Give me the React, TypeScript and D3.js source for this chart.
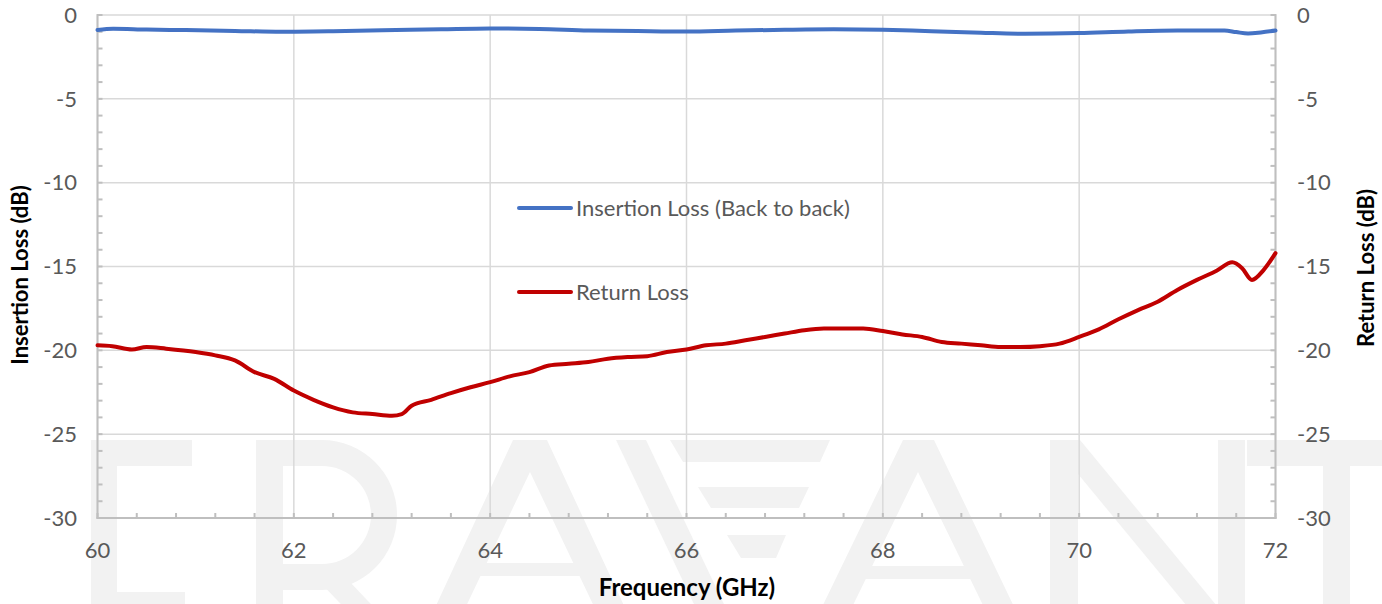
import React from "react";
import * as d3 from "d3";

// ---- data ----
const rlFreq = [60.0, 60.15, 60.35, 60.5, 60.7, 61.0, 61.2, 61.4, 61.6, 61.8, 62.0, 62.2, 62.4, 62.6, 62.8, 63.0, 63.1, 63.2, 63.4, 63.6, 63.8, 64.0, 64.2, 64.4, 64.6, 64.8, 65.0, 65.2, 65.4, 65.6, 65.8, 66.0, 66.2, 66.4, 66.6, 66.8, 67.0, 67.2, 67.4, 67.6, 67.8, 68.0, 68.2, 68.4, 68.6, 68.8, 69.0, 69.2, 69.4, 69.6, 69.8, 70.0, 70.2, 70.4, 70.6, 70.8, 71.0, 71.2, 71.4, 71.56, 71.66, 71.76, 71.88, 72.0];
const returnLoss = [-19.7, -19.75, -19.95, -19.8, -19.9, -20.1, -20.3, -20.6, -21.3, -21.7, -22.4, -22.95, -23.4, -23.7, -23.8, -23.9, -23.8, -23.3, -22.95, -22.55, -22.2, -21.9, -21.55, -21.3, -20.9, -20.8, -20.7, -20.5, -20.4, -20.35, -20.1, -19.95, -19.7, -19.6, -19.4, -19.2, -19.0, -18.8, -18.7, -18.7, -18.7, -18.85, -19.05, -19.2, -19.5, -19.6, -19.7, -19.8, -19.8, -19.75, -19.6, -19.2, -18.75, -18.15, -17.6, -17.1, -16.4, -15.8, -15.25, -14.75, -15.1, -15.8, -15.2, -14.2];

const ilFreq = [60.0, 60.16, 60.5, 60.9, 61.4, 61.87, 62.4, 63.04, 63.5, 64.0, 64.5, 65.0, 65.5, 66.0, 66.5, 67.0, 67.5, 68.0, 68.3, 68.66, 69.0, 69.45, 70.0, 70.5, 71.0, 71.48, 71.6, 71.72, 71.85, 72.0];
const insertionLoss = [-0.9, -0.82, -0.87, -0.9, -0.95, -1.0, -0.97, -0.9, -0.85, -0.8, -0.83, -0.92, -0.96, -0.99, -0.93, -0.88, -0.85, -0.88, -0.93, -1.0, -1.06, -1.12, -1.08, -0.98, -0.92, -0.93, -1.02, -1.1, -1.04, -0.93];

const xTicks = [60, 62, 64, 66, 68, 70, 72];
const yTicks = [0, -5, -10, -15, -20, -25, -30];
const seriesNames = ["Insertion Loss (Back to back)", "Return Loss"];
const seriesColors = ["#4472C4", "#C00000"];

const W = 1382;
const H = 604;
const L = 97.5;
const R = 1275.5;
const T = 15;
const B = 518;

const font = "Lato, 'Open Sans', sans-serif";

export default function App() {
  const x = d3.scaleLinear().domain([60, 72]).range([L, R]);
  const y = d3.scaleLinear().domain([-30, 0]).range([B, T]);

  const line = d3
    .line<[number, number]>()
    .x((d) => x(d[0]))
    .y((d) => y(d[1]))
    .curve(d3.curveMonotoneX);

  const rlPts = rlFreq.map((f, i) => [f, returnLoss[i]] as [number, number]);
  const ilPts = ilFreq.map((f, i) => [f, insertionLoss[i]] as [number, number]);

  const xMinor = d3.range(60, 72.001, 0.4);
  const yMinor = d3.range(-30, 0.001, 1);

  const wm = "#f2f2f2";

  return (
    <div style={{ position: "absolute", left: 0, top: 0 }}>
      <svg width={W} height={H} style={{ display: "block", background: "#fff" }}>
        {/* watermark */}
        <g fill={wm}>
          {/* E */}
          <rect x={91} y={440} width={26} height={200} />
          <rect x={91} y={440} width={101} height={26} />
          <rect x={91} y={592} width={94} height={26} />
          {/* R */}
          <rect x={256} y={440} width={27} height={200} />
          <path d={"M256,440 H322 A75,75 0 0 1 322,590 H256 V564 H322 A49,49 0 0 0 322,466 H256 Z"} />
          <path d={"M318,580 L348,580 L405,640 L375,640 Z"} />
          {/* A */}
          <path d={"M513,440 L547,440 L640,640 L610,640 L530,472 L450,640 L420,640 Z"} />
          <rect x={478} y={563} width={106} height={13} />
          {/* V logo */}
          <path d={"M616,440 L646,440 L760,680 L730,680 Z"} />
          <path d={"M670,440 L830,440 L820,462 L683,462 Z"} />
          <path d={"M698,487 L809,487 L799,508 L711,508 Z"} />
          <path d={"M727,535 L786,535 L776,558 L741,558 Z"} />
          {/* A */}
          <path d={"M903,440 L934,440 L1030,640 L1000,640 L918,472 L836,640 L806,640 Z"} />
          <rect x={862} y={566} width={112} height={13} />
          {/* N */}
          <path d={"M1050,440 L1078,440 L1078,640 L1050,640 Z"} />
          <path d={"M1050,440 L1080,440 L1245,640 L1215,640 Z"} />
          <path d={"M1218,440 L1245,440 L1245,640 L1218,640 Z"} />
          {/* T */}
          <rect x={1247} y={440} width={140} height={26} />
          <rect x={1323} y={440} width={27} height={200} />
        </g>

        {/* gridlines */}
        <g stroke="#d9d9d9" strokeWidth={1.5}>
          {yTicks.map((t) => (
            <line key={"gy" + t} x1={L} x2={R} y1={y(t)} y2={y(t)} />
          ))}
          {xTicks.map((t) => (
            <line key={"gx" + t} x1={x(t)} x2={x(t)} y1={T} y2={B} />
          ))}
        </g>

        {/* axes */}
        <g stroke="#bfbfbf" strokeWidth={2}>
          <line x1={L} x2={L} y1={T - 1} y2={B + 1} />
          <line x1={R} x2={R} y1={T - 1} y2={B + 1} />
          <line x1={L - 1} x2={R + 1} y1={B} y2={B} />
          {xMinor.map((t, i) => (
            <line key={"mx" + i} x1={x(t)} x2={x(t)} y1={B} y2={B - 5} />
          ))}
          {yMinor.map((t, i) => (
            <g key={"my" + i}>
              <line x1={L} x2={L + 5} y1={y(t)} y2={y(t)} />
              <line x1={R} x2={R - 5} y1={y(t)} y2={y(t)} />
            </g>
          ))}
        </g>

        {/* tick labels */}
        <g fontFamily={font} fontSize={22} fill="#595959">
          {yTicks.map((t) => (
            <text key={"ly" + t} x={77} y={y(t)} dy="0.35em" textAnchor="end">
              {t === 0 ? "0" : "-" + Math.abs(t)}
            </text>
          ))}
          {yTicks.map((t) => (
            <text key={"ry" + t} x={1297} y={y(t)} dy="0.35em" textAnchor="start">
              {t === 0 ? "0" : "-" + Math.abs(t)}
            </text>
          ))}
          {xTicks.map((t) => (
            <text key={"lx" + t} x={x(t)} y={550} dy="0.35em" textAnchor="middle">
              {t}
            </text>
          ))}
        </g>

        {/* axis titles */}
        <g fontFamily={font} fontWeight="bold" fill="#000">
          <text x={687} y={588} dy="0.35em" textAnchor="middle" fontSize={24}>
            Frequency (GHz)
          </text>
          <text transform={`translate(20,${275}) rotate(-90)`} dy="0.35em" textAnchor="middle" fontSize={22}>
            Insertion Loss (dB)
          </text>
          <text transform={`translate(1367,${268}) rotate(-90)`} dy="0.33em" textAnchor="middle" fontSize={22}>
            Return Loss (dB)
          </text>
        </g>

        {/* series */}
        <path d={line(ilPts) || ""} fill="none" stroke={seriesColors[0]} strokeWidth={4} strokeLinejoin="round" strokeLinecap="round" />
        <path d={line(rlPts) || ""} fill="none" stroke={seriesColors[1]} strokeWidth={4} strokeLinejoin="round" strokeLinecap="round" />

        {/* legend */}
        <g fontFamily={font} fontSize={22} fill="#595959">
          {seriesNames.map((n, i) => (
            <g key={n} transform={`translate(0,${208 + i * 84})`}>
              <line x1={519} x2={571} y1={0} y2={0} stroke={seriesColors[i]} strokeWidth={4} strokeLinecap="round" />
              <text x={576} y={0} dy="0.35em">
                {n}
              </text>
            </g>
          ))}
        </g>
      </svg>
    </div>
  );
}
